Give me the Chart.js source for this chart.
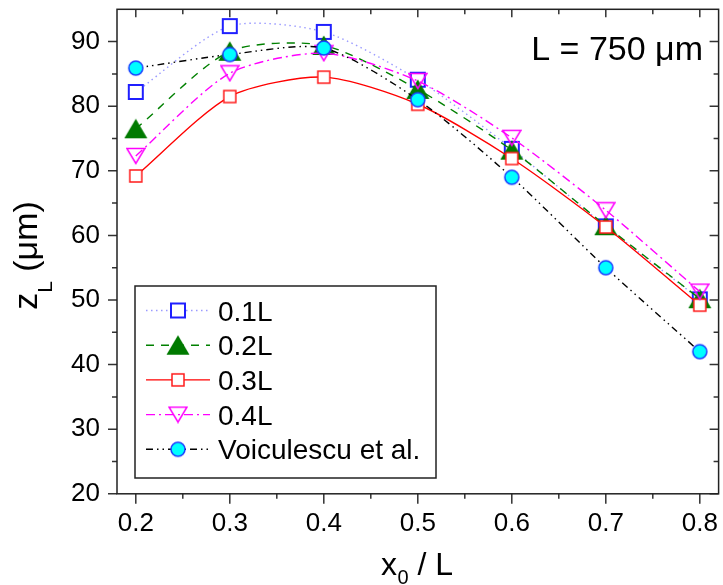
<!DOCTYPE html>
<html>
<head>
<meta charset="utf-8">
<script src="https://cdn.jsdelivr.net/npm/chart.js@4/dist/chart.umd.min.js"></script>
<style>
  html, body { margin: 0; padding: 0; background: #fff; }
  #wrap { width: 723px; height: 585px; position: relative; }
</style>
</head>
<body>
<div id="wrap"><canvas id="c"></canvas></div>
<script>
// x0 / L positions of the measurements
const xPositions = [0.2, 0.3, 0.4, 0.5, 0.6, 0.7, 0.8];

// z_L (µm) for each series
const seriesNames = ['0.1L', '0.2L', '0.3L', '0.4L', 'Voiculescu et al.'];
const zL_01 = [82.2, 92.4, 91.5, 84.1, 73.4, 61.4, 50.1];
const zL_02 = [76.5, 88.5, 89.4, 82.6, 73.2, 61.5, 50.2];
const zL_03 = [69.2, 81.5, 84.5, 80.3, 71.9, 61.3, 49.2];
const zL_04 = [72.3, 85.1, 88.2, 83.9, 75.1, 63.9, 51.3];
const zL_voic = [85.9, 88.0, 89.0, 81.0, 69.0, 55.0, 42.0];

// axis tick labels
const xTickValues = [0.2, 0.3, 0.4, 0.5, 0.6, 0.7, 0.8];
const yTickValues = [20, 30, 40, 50, 60, 70, 80, 90];

const FONT = "'Liberation Sans', Arial, Helvetica, sans-serif";

// ---- symbol sprites ----
function sprite(w, h, draw) {
  const c = document.createElement('canvas');
  c.width = w; c.height = h;
  draw(c.getContext('2d'));
  return c;
}
const symOpenBlueSquare = sprite(18, 18, g => {
  g.fillStyle = '#fff'; g.strokeStyle = '#1f1fff'; g.lineWidth = 2;
  g.fillRect(2, 2, 14, 14); g.strokeRect(2, 2, 14, 14);
});
const symGreenTriangle = sprite(24, 21, g => {
  g.fillStyle = '#007a00';
  g.beginPath(); g.moveTo(0.5, 20); g.lineTo(12, 0.5); g.lineTo(23.5, 20); g.closePath(); g.fill();
});
const symOpenRedSquare = sprite(16, 16, g => {
  g.fillStyle = '#fff'; g.strokeStyle = '#ff1a1a'; g.lineWidth = 1.5;
  g.fillRect(2, 2, 12, 12); g.strokeRect(2, 2, 12, 12);
});
const symMagentaDown = sprite(20, 18, g => {
  g.strokeStyle = '#ff00ff'; g.lineWidth = 1.5;
  g.beginPath(); g.moveTo(1, 1.5); g.lineTo(19, 1.5); g.lineTo(10, 16.5); g.closePath(); g.stroke();
});
const symCyanCircle = sprite(18, 18, g => {
  g.fillStyle = '#00ffff'; g.strokeStyle = '#1a3cff'; g.lineWidth = 1.5;
  g.beginPath(); g.arc(9, 9, 7, 0, Math.PI * 2); g.fill(); g.stroke();
});

function points(arr) { return xPositions.map((x, i) => ({ x: x, y: arr[i] })); }

const styles = [
  { data: zL_01, line: '#9a9aff', dash: [1.5, 3.5], sym: symOpenBlueSquare, order: 5 },
  { data: zL_02, line: '#008000', dash: [8, 7], sym: symGreenTriangle, order: 4 },
  { data: zL_03, line: '#ff0000', dash: [], sym: symOpenRedSquare, order: 3 },
  { data: zL_04, line: '#ff00ff', dash: [9, 4, 2, 4], sym: symMagentaDown, order: 2 },
  { data: zL_voic, line: '#000000', dash: [7, 4, 1.5, 4, 1.5, 4], sym: symCyanCircle, order: 1 }
];

const datasets = styles.map((s, i) => ({
  label: seriesNames[i],
  data: points(s.data),
  showLine: true,
  borderColor: s.line,
  borderWidth: 1.4,
  borderDash: s.dash,
  tension: 0.25,
  pointStyle: s.sym,
  pointRadius: 8,
  pointHoverRadius: 8,
  order: s.order,
  clip: false
}));

function noEdgePadding(s) {
  s.paddingTop = 0; s.paddingBottom = 0; s.paddingLeft = 0; s.paddingRight = 0;
}

// frame, tick marks, axis titles, note and legend
const decorations = {
  id: 'decorations',
  afterDraw(chart) {
    const ctx = chart.ctx;
    const a = chart.chartArea;
    const xs = chart.scales.x, ys = chart.scales.y;
    ctx.save();

    // tick marks: outward on left/bottom, inward on top/right
    ctx.strokeStyle = '#333';
    ctx.lineWidth = 1.5;
    ctx.beginPath();
    const xMajor = xTickValues;
    const xMinor = xTickValues.slice(0, -1).map((v, i) => (v + xTickValues[i + 1]) / 2);
    xMajor.forEach(v => {
      const p = xs.getPixelForValue(v);
      ctx.moveTo(p, a.bottom); ctx.lineTo(p, a.bottom + 10);
      ctx.moveTo(p, a.top); ctx.lineTo(p, a.top + 8);
    });
    xMinor.forEach(v => {
      const p = xs.getPixelForValue(v);
      ctx.moveTo(p, a.bottom); ctx.lineTo(p, a.bottom + 5);
      ctx.moveTo(p, a.top); ctx.lineTo(p, a.top + 5);
    });
    const yMinor = yTickValues.map(v => v + 5).filter(v => v < 95);
    yTickValues.forEach(v => {
      const p = ys.getPixelForValue(v);
      ctx.moveTo(a.left, p); ctx.lineTo(a.left - 9, p);
      ctx.moveTo(a.right, p); ctx.lineTo(a.right - 9, p);
    });
    yMinor.forEach(v => {
      const p = ys.getPixelForValue(v);
      ctx.moveTo(a.left, p); ctx.lineTo(a.left - 5, p);
      ctx.moveTo(a.right, p); ctx.lineTo(a.right - 5, p);
    });
    ctx.stroke();

    // plot frame
    ctx.strokeStyle = '#222';
    ctx.lineWidth = 1.5;
    ctx.strokeRect(a.left, a.top, a.right - a.left, a.bottom - a.top);

    ctx.fillStyle = '#000';
    ctx.textBaseline = 'alphabetic';

    // x axis title: x0 / L
    let x = 381;
    const xb = 575;
    ctx.textAlign = 'left';
    ctx.font = '32px ' + FONT;
    ctx.fillText('x', x, xb);
    x += ctx.measureText('x').width + 0.5;
    ctx.font = '20px ' + FONT;
    ctx.fillText('0', x, xb + 9);
    x += ctx.measureText('0').width;
    ctx.font = '32px ' + FONT;
    ctx.fillText(' / L', x, xb);

    // y axis title: zL (µm), rotated
    ctx.save();
    ctx.translate(36.5, 255.5);
    ctx.rotate(-Math.PI / 2);
    ctx.font = '34px ' + FONT;
    const wz = ctx.measureText('z').width;
    const wRest = ctx.measureText(' (\u03BCm)').width;
    ctx.font = '21px ' + FONT;
    const wL = ctx.measureText('L').width;
    let t = -(wz + wL + wRest) / 2;
    ctx.font = '34px ' + FONT;
    ctx.fillText('z', t, 0);
    t += wz;
    ctx.font = '21px ' + FONT;
    ctx.fillText('L', t, 15);
    t += wL;
    ctx.font = '34px ' + FONT;
    ctx.fillText(' (\u03BCm)', t, 0);
    ctx.restore();

    // note in the upper right corner
    ctx.font = '34px ' + FONT;
    ctx.textAlign = 'right';
    ctx.fillText('L = 750 \u03BCm', 703, 60);

    // legend
    const box = { l: 135, t: 286, r: 436, b: 478 };
    ctx.fillStyle = '#fff';
    ctx.fillRect(box.l, box.t, box.r - box.l, box.b - box.t);
    ctx.strokeStyle = '#222';
    ctx.lineWidth = 1.5;
    ctx.strokeRect(box.l, box.t, box.r - box.l, box.b - box.t);
    ctx.font = '28px ' + FONT;
    ctx.textAlign = 'left';
    chart.data.datasets.forEach((ds, i) => {
      const cy = 310.5 + i * 34.7;
      ctx.save();
      ctx.strokeStyle = ds.borderColor;
      ctx.lineWidth = ds.borderWidth;
      ctx.setLineDash(ds.borderDash);
      ctx.beginPath();
      ctx.moveTo(146, cy); ctx.lineTo(210, cy);
      ctx.stroke();
      ctx.restore();
      const s = ds.pointStyle;
      ctx.drawImage(s, 178 - s.width / 2, cy - s.height / 2);
      ctx.fillStyle = '#000';
      ctx.fillText(ds.label, 218, cy + 10);
    });

    ctx.restore();
  }
};

new Chart(document.getElementById('c'), {
  type: 'scatter',
  data: { datasets: datasets },
  options: {
    responsive: true,
    maintainAspectRatio: false,
    animation: false,
    events: [],
    layout: { autoPadding: false, padding: { left: 0, top: 9.3, right: 4.4, bottom: 0 } },
    plugins: { legend: { display: false }, tooltip: { enabled: false } },
    scales: {
      x: {
        type: 'linear',
        min: 0.18,
        max: 0.82,
        afterBuildTicks: s => { s.ticks = xTickValues.map(v => ({ value: v })); },
        afterFit: s => { s.height = 91.2; noEdgePadding(s); },
        grid: { display: false, drawTicks: false },
        border: { display: false },
        ticks: {
          autoSkip: false,
          maxRotation: 0,
          padding: 14,
          color: '#000',
          font: { family: FONT, size: 26 },
          callback: v => v.toFixed(1)
        }
      },
      y: {
        type: 'linear',
        min: 20,
        max: 95,
        afterBuildTicks: s => { s.ticks = yTickValues.map(v => ({ value: v })); },
        afterFit: s => { s.width = 117; noEdgePadding(s); },
        grid: { display: false, drawTicks: false },
        border: { display: false },
        ticks: {
          padding: 17,
          color: '#000',
          font: { family: FONT, size: 26 },
          callback: v => String(v)
        }
      }
    }
  },
  plugins: [decorations]
});
</script>
</body>
</html>
